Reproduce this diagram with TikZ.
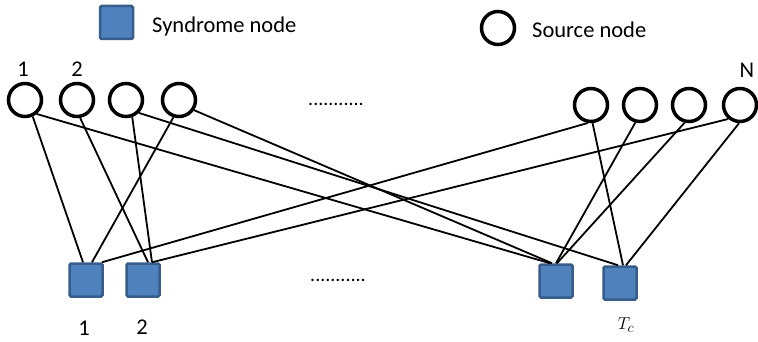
\documentclass[tikz,border=0pt]{standalone}
\usepackage{fontspec}
\setmainfont{Carlito}
\usetikzlibrary{calc}
\definecolor{synfill}{HTML}{4F81BD}
\definecolor{synedge}{HTML}{385D8A}
\tikzset{
  srcnode/.style={circle, draw=black, line width=3.5pt, minimum size=33pt, inner sep=0pt},
  synnode/.style={rectangle, fill=synfill, draw=synedge, line width=2.5pt, rounded corners=1.5pt, minimum size=33pt, inner sep=0pt},
  edge/.style={line width=1.8pt, black},
  lbl/.style={font=\fontsize{22.5}{26}\selectfont, inner sep=0pt},
  dots/.style={font=\fontsize{20}{22}\selectfont, inner sep=0pt}
}
\begin{document}
\begin{tikzpicture}[x=1pt,y=-1pt]
\useasboundingbox (0,0) rectangle (758,342);

% legend
\node[synnode] (legsyn) at (116.5,22.5) {};
\node[lbl, anchor=west] (legsyntxt) at (152,27) {Syndrome node};
\node[srcnode] (legsrc) at (498,28) {};
\node[lbl, anchor=west] (legsrctxt) at (532,30) {Source node};

% source nodes
\node[srcnode] (L1) at (25,100) {};
\node[srcnode] (L2) at (77,100) {};
\node[srcnode] (L3) at (126,100) {};
\node[srcnode] (L4) at (179,100) {};
\node[srcnode] (R1) at (591,105) {};
\node[srcnode] (R2) at (640,105) {};
\node[srcnode] (R3) at (689,105) {};
\node[srcnode] (R4) at (740,105) {};

\node[lbl] (n1) at (23,69) {1};
\node[lbl] (n2) at (77,69) {2};
\node[lbl] (nN) at (747,70) {N};
\node[dots] (topdots) at (336,104) {...........};

% syndrome nodes
\node[synnode] (S1) at (86,280) {};
\node[synnode] (S2) at (143,280) {};
\node[synnode] (S3) at (556,281) {};
\node[synnode] (S4) at (620,283) {};

\node[lbl] (m1) at (84,328) {1};
\node[lbl] (m2) at (142,327) {2};
\node[dots] (botdots) at (338,280) {...........};
\node[inner sep=0pt, font=\fontsize{19}{21}\selectfont] (mT) at (626,325) {$T_c$};

% connections
\draw[edge] (L1.-65) -- ($(S1.north)+(-3,0)$);
\draw[edge] (L1.-50) -- ($(S3.north)+(-6,0)$);
\draw[edge] (L2.-80) -- ($(S2.north)+(5,0)$);
\draw[edge] (L3.-70) -- ($(S2.north)+(9,0)$);
\draw[edge] (L3.-45) -- ($(S4.north)+(-2,0)$);
\draw[edge] (L4.-108) -- ($(S1.north)+(6,0)$);
\draw[edge] (L4.-34) -- ($(S3.north)+(-4,0)$);
\draw[edge] (R1.-100) -- ($(S1.north)+(16,0)$);
\draw[edge] (R1.-85) -- ($(S4.north)+(3,0)$);
\draw[edge] (R2.-105) -- ($(S3.north)+(0,0)$);
\draw[edge] (R3.-104) -- ($(S3.north)+(1,0)$);
\draw[edge] (R4.-93) -- ($(S4.north)+(6,0)$);
\draw[edge] (R4.-130) -- ($(S2.north)+(9,0)$);
\end{tikzpicture}
\end{document}
